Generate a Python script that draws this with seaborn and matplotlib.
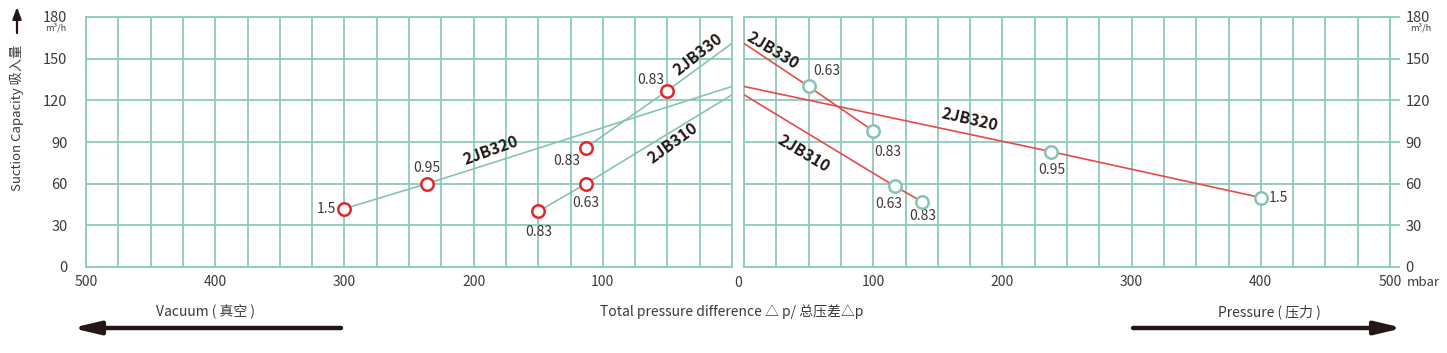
import matplotlib
matplotlib.use("Agg")
import matplotlib.pyplot as plt
import pandas as pd
import seaborn as sns

# vacuum side (left panel) - lines run to the 0 edge
vac_320_x = [300, 236, 0]
vac_320_y = [42, 60, 130]
vac_310_x = [150, 113, 0]
vac_310_y = [40, 60, 124]
vac_330_x = [113, 50, 0]
vac_330_y = [86, 127, 161]
vac_320_lbl = ["1.5", "0.95"]
vac_310_lbl = ["0.83", "0.63"]
vac_330_lbl = ["0.83", "0.83"]

# pressure side (right panel)
prs_320_x = [0, 238, 400]
prs_320_y = [130, 83, 50]
prs_310_x = [0, 117, 138]
prs_310_y = [124, 58, 47]
prs_330_x = [0, 50, 100]
prs_330_y = [161, 130, 98]
prs_320_lbl = ["0.95", "1.5"]
prs_310_lbl = ["0.63", "0.83"]
prs_330_lbl = ["0.63", "0.83"]

x_ticks = [0, 100, 200, 300, 400, 500]
y_ticks = [0, 30, 60, 90, 120, 150, 180]

TEAL = "#8fc9bd"
TEAL_LINE = "#86c3b6"
RED = "#e3262b"
RED_LINE = "#e84a4a"
TXT = "#3e3a39"
DARK = "#231815"

sns.set_style("white")
plt.rcParams["font.family"] = ["Noto Sans CJK SC", "DejaVu Sans"]

W, H = 1447, 353
fig = plt.figure(figsize=(W / 100, H / 100), dpi=100)
axL = fig.add_axes([86 / W, 1 - 267 / H, 646 / W, 250 / H])
axR = fig.add_axes([744 / W, 1 - 267 / H, 646 / W, 250 / H])


def style_axis(ax, side):
    ax.set_xlim(0, 500)
    ax.set_ylim(0, 180)
    ax.set_xticks(x_ticks)
    ax.set_xticks(range(0, 501, 25), minor=True)
    ax.set_yticks(y_ticks)
    ax.set_xticklabels(["" if t == 0 else str(t) for t in x_ticks])
    ax.set_yticklabels([str(t) for t in y_ticks])
    ax.grid(True, which="both", axis="x", color=TEAL, lw=1.3)
    ax.grid(True, which="major", axis="y", color=TEAL, lw=1.3)
    ax.set_axisbelow(True)
    for sp in ax.spines.values():
        sp.set_color(TEAL)
        sp.set_linewidth(1.3)
    ax.tick_params(axis="x", which="both", length=3, width=1.3, color=TEAL,
                   labelsize=10, labelcolor=TXT, pad=3)
    ax.tick_params(axis="y", length=9.4 if side == "left" else 7, width=1.3,
                   color=TEAL, labelsize=10.5, labelcolor=TXT, pad=4)
    if side == "right":
        ax.yaxis.tick_right()
    ax.set_xlabel("")
    ax.set_ylabel("")


def draw_series(ax, xs, ys, lbls, offsets, line_c, mark_c):
    df = pd.DataFrame({"x": xs, "y": ys})
    sns.lineplot(data=df, x="x", y="y", ax=ax, color=line_c, lw=1.2,
                 sort=False, estimator=None, zorder=3)
    pts = df[df["x"] != 0]
    sns.scatterplot(data=pts, x="x", y="y", ax=ax, marker="o", s=80,
                    facecolor="white", edgecolor=mark_c, linewidth=1.8,
                    zorder=4, clip_on=False)
    for (px, py), lb, (dx, dy, ha) in zip(pts.values, lbls, offsets):
        ax.annotate(lb, (px, py), xytext=(dx, dy), textcoords="offset pixels",
                    ha=ha, va="center", fontsize=10, color=TXT)


# left panel: vacuum
draw_series(axL, vac_320_x, vac_320_y, vac_320_lbl,
            [(-8, 0, "right"), (0, 16, "center")], TEAL_LINE, RED)
draw_series(axL, vac_310_x, vac_310_y, vac_310_lbl,
            [(1, -21, "center"), (0, -19, "center")], TEAL_LINE, RED)
draw_series(axL, vac_330_x, vac_330_y, vac_330_lbl,
            [(-19, -13, "center"), (-17, 11, "center")], TEAL_LINE, RED)
style_axis(axL, "left")
axL.set_xlim(500, 0)

# right panel: pressure
draw_series(axR, prs_320_x, prs_320_y, prs_320_lbl,
            [(0, -18, "center"), (8, 0, "left")], RED_LINE, TEAL_LINE)
draw_series(axR, prs_310_x, prs_310_y, prs_310_lbl,
            [(-6, -18, "center"), (0, -14, "center")], RED_LINE, TEAL_LINE)
draw_series(axR, prs_330_x, prs_330_y, prs_330_lbl,
            [(18, 15, "center"), (15, -21, "center")], RED_LINE, TEAL_LINE)
style_axis(axR, "right")

# model names
name_kw = dict(fontsize=11.5, fontweight="bold", color=DARK,
               ha="center", va="center", rotation_mode="anchor")
axL.text(187, 84, "2JB320", rotation=20, **name_kw)
axL.text(46, 89, "2JB310", rotation=36, **name_kw)
axL.text(26, 153, "2JB330", rotation=38, **name_kw)
axR.text(22, 156, "2JB330", rotation=-31, **name_kw)
axR.text(175, 106, "2JB320", rotation=-13, **name_kw)
axR.text(46, 82, "2JB310", rotation=-31, **name_kw)

# shared labels
fig.text(738 / W, 1 - 283 / H, "0", ha="center", va="center", fontsize=10, color=TXT)
fig.text(1407 / W, 1 - 283 / H, "mbar", ha="left", va="center", fontsize=9.5, color=TXT)
fig.text(56 / W, 1 - 28 / H, "m³/h", ha="center", va="center", fontsize=6.5, color=TXT)
fig.text(1421 / W, 1 - 28 / H, "m³/h", ha="center", va="center", fontsize=6.5, color=TXT)
fig.text(17 / W, 1 - 118 / H, "Suction Capacity 吸入量", rotation=90,
         ha="center", va="center", fontsize=9.5, color=TXT)
fig.text(206 / W, 1 - 312 / H, "Vacuum ( 真空 )", ha="center", va="center",
         fontsize=10, color=TXT)
fig.text(732 / W, 1 - 312 / H, "Total pressure difference △ p/ 总压差△p",
         ha="center", va="center", fontsize=10, color=TXT)
fig.text(1269 / W, 1 - 312 / H, "Pressure ( 压力 )", ha="center", va="center",
         fontsize=10, color=TXT)

# arrows
big = dict(arrowstyle="-|>,head_length=16,head_width=3.8", lw=3.2, color=DARK,
           mutation_scale=1, shrinkA=0, shrinkB=0)
fig.add_artist(matplotlib.patches.FancyArrowPatch(
    (341 / W, 1 - 328 / H), (72 / W, 1 - 328 / H),
    transform=fig.transFigure, **big))
fig.add_artist(matplotlib.patches.FancyArrowPatch(
    (1133 / W, 1 - 328 / H), (1403 / W, 1 - 328 / H),
    transform=fig.transFigure, **big))
fig.add_artist(matplotlib.patches.FancyArrowPatch(
    (17 / W, 1 - 33 / H), (17 / W, 1 - 7 / H), transform=fig.transFigure,
    arrowstyle="-|>,head_length=7,head_width=2.6", lw=1.6, color=DARK,
    mutation_scale=1, shrinkA=0, shrinkB=0))

fig.savefig("out.png", dpi=100)
